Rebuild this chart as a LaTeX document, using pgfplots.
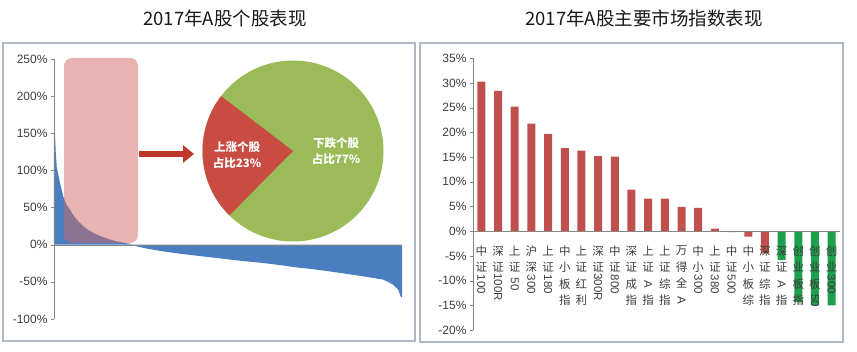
\documentclass[border=0pt]{standalone}
\usepackage{pgfplots}
\pgfplotsset{compat=1.18}
\usepackage{graphicx}
\usepackage{fontspec}
\setmainfont{Liberation Sans}
\newfontfamily\cjk{Noto Sans CJK SC}
\usetikzlibrary{arrows.meta}

\definecolor{barblue}{RGB}{74,126,192}
\definecolor{barred}{RGB}{192,80,77}
\definecolor{bargreen}{RGB}{28,160,75}
\definecolor{piered}{RGB}{200,76,66}
\definecolor{piegreen}{RGB}{155,187,89}
\definecolor{framecol}{RGB}{175,183,195}
\definecolor{axisgray}{RGB}{134,134,134}
\definecolor{ticktext}{RGB}{60,60,60}
\definecolor{pinkbox}{RGB}{209,105,101}
\definecolor{arrowred}{RGB}{190,55,42}

\newcommand{\R}[1]{\rotatebox[origin=c]{-90}{\rmfamily #1}}

\begin{document}
\begin{tikzpicture}[x=1pt,y=1pt]
\path[use as bounding box] (0,0) rectangle (857,351);
% frames
\draw[framecol, line width=1.2pt] (3,10) rectangle (415,308);
\draw[framecol, line width=1.2pt] (420,9) rectangle (843,308);
% titles
\node[font=\cjk\fontsize{18.5}{20}\selectfont, text=black!90] at (225,333) {2017年A股个股表现};
\node[font=\cjk\fontsize{18.5}{20}\selectfont, text=black!90] at (644,333) {2017年A股主要市场指数表现};

% ---------------- left chart
\begin{axis}[at={(54pt,32pt)}, anchor=south west, scale only axis,
  width=348pt, height=260pt,
  xmin=0, xmax=100, ymin=-100, ymax=250,
  axis y line=left, axis x line=middle,
  axis line style={axisgray,-},
  every inner x axis line/.append style={-},
  xtick=\empty,
  ytick={-100,-50,...,250},
  yticklabels={-100\%,-50\%,0\%,50\%,100\%,150\%,200\%,250\%},
  tick style={axisgray}, tick align=outside, major tick length=3pt,
  yticklabel style={font=\fontsize{12}{14}\selectfont, text=ticktext},
  axis on top, clip=false]
\addplot[fill=barblue, draw=none] coordinates {
(0,0) (0,150) (0.3,148) (0.5,125) (0.78,105) (1.24,94) (1.72,83) (2.67,65)
(3.5,55) (4.6,47) (5.5,40) (6.5,34) (8.4,25) (9.8,20) (11.3,16) (12.8,12.8)
(14.2,10) (16,7.2) (18,4.5) (20,2.6) (21.8,1.3) (22.5,0.4) (23,-0.5) (24,-2.5)
(27,-5.5) (31.4,-9) (36,-12) (41,-14.8) (46,-17.5) (50.6,-20) (55,-22.3)
(60.1,-24.6) (65,-27.5) (69.7,-30.5) (75,-33.3) (79.3,-36) (84,-39.2)
(88.9,-42.6) (92,-45) (94.6,-47) (96,-50) (97.5,-54) (98.9,-60.5)
(99.6,-69.6) (100,-71) (100,0)};
\end{axis}

% overlay box, arrow and pie
\fill[pinkbox, opacity=0.5, rounded corners=8pt] (64,108) rectangle (138,293);
\draw[arrowred, line width=6pt, -{Triangle[length=11pt, width=17pt]}] (139,197) -- (194,197);
\fill[piegreen] (293,200) circle (90.5);
\fill[piered] (293,200) -- ++(142.6:90.5) arc[start angle=142.6, end angle=225.4, radius=90.5] -- cycle;
\node[text=white, font=\cjk\bfseries\fontsize{11.5}{16}\selectfont, align=center] at (237,195.5) {上涨个股\\占比23\%};
\node[text=white, font=\cjk\bfseries\fontsize{11.5}{16}\selectfont, align=center] at (336,200) {下跌个股\\占比77\%};

% ---------------- right chart
\begin{axis}[at={(473pt,21pt)}, anchor=south west, scale only axis,
  width=367pt, height=271.7pt,
  xmin=-0.5, xmax=21.5, ymin=-20, ymax=35,
  axis y line=left, axis x line=middle,
  axis line style={axisgray,-},
  every inner x axis line/.append style={-},
  ybar, bar width=8pt, bar shift=0pt,
  xtick={0,...,21},
  x tick style={draw=none},
  xticklabels={{中\\证\\\R{100}},{深\\证\\\R{100R}},{上\\证\\\R{50}},{沪\\深\\\R{300}},{上\\证\\\R{180}},{中\\小\\板\\指},{上\\证\\红\\利},{深\\证\\\R{300R}},{中\\证\\\R{800}},{深\\证\\成\\指},{上\\证\\\R{A}\\指},{上\\证\\综\\指},{万\\得\\全\\\R{A}},{中\\小\\\R{300}},{上\\证\\\R{380}},{中\\证\\\R{500}},{中\\小\\板\\综},{深\\证\\综\\指},{深\\证\\\R{A}\\指},{创\\业\\板\\指},{创\\业\\板\\\R{50}},{创\\业\\\R{300}}},
  xticklabel style={anchor=north, align=center, font=\cjk\fontsize{11.5}{16.5}\selectfont, text=ticktext, yshift=-8pt},
  ytick={-20,-15,...,35},
  yticklabels={-20\%,-15\%,-10\%,-5\%,0\%,5\%,10\%,15\%,20\%,25\%,30\%,35\%},
  y tick style={axisgray}, tick align=outside, major tick length=3pt,
  yticklabel style={font=\fontsize{12}{14}\selectfont, text=ticktext},
  axis on top]
\addplot[fill=barred, draw=none] coordinates {
(0,30.3) (1,28.4) (2,25.2) (3,21.8) (4,19.7) (5,16.8) (6,16.3) (7,15.2) (8,15.1)
(9,8.4) (10,6.6) (11,6.6) (12,4.9) (13,4.7) (14,0.5) (15,-0.2) (16,-1.1) (17,-4.5)};
\addplot[fill=bargreen, draw=none] coordinates {
(18,-5.8) (19,-14.3) (20,-15) (21,-15)};
\end{axis}
\end{tikzpicture}
\end{document}
